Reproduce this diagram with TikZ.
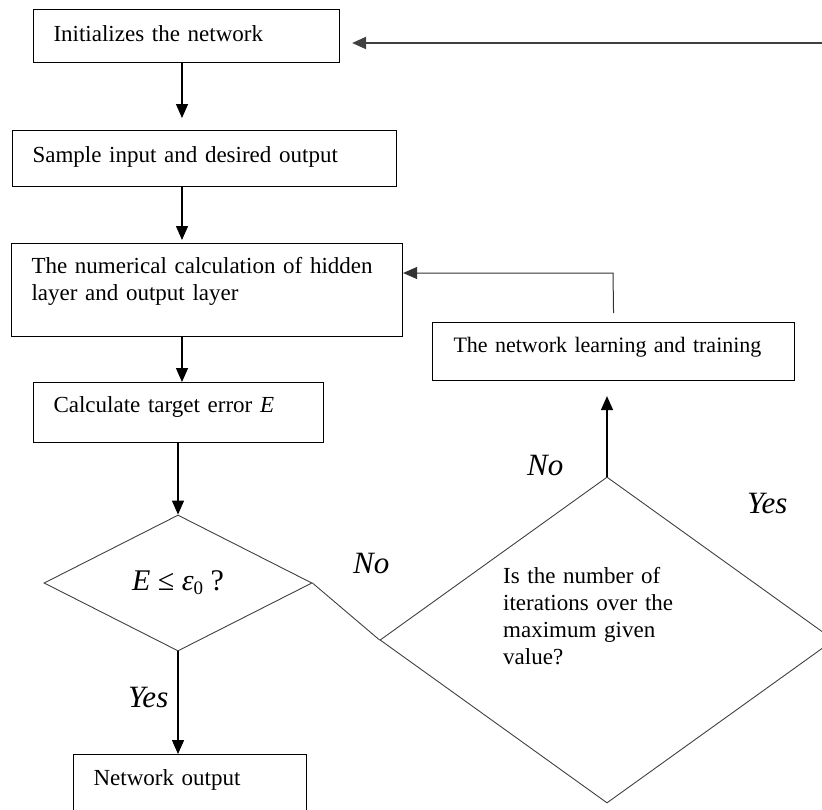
\documentclass[tikz,border=0pt]{standalone}
\usepackage{fontspec}
\setmainfont{Liberation Serif}
\usetikzlibrary{arrows.meta,positioning,shapes.geometric}

\begin{document}
\begin{tikzpicture}[x=1pt, y=-1pt, >={Triangle[length=14pt,width=12pt]},
  every node/.style={font=\fontsize{23}{27}\selectfont},
  stage/.style={draw, line width=1.1pt, anchor=north west, inner xsep=20pt, inner ysep=0pt, align=left},
  test/.style={diamond, draw=black!75, line width=0.9pt, inner sep=0pt},
  verdict/.style={font=\fontsize{31}{31}\selectfont\itshape, inner sep=0pt},
  flow/.style={->, line width=1.4pt}]
\useasboundingbox (0,0) rectangle (822,809);

% main column
\node[stage, text width=266pt, text height=32pt, text depth=21pt] (init) at (33,9) {Initializes the network};
\node[stage, text width=344pt, text height=32pt, text depth=24pt] (sample) at (12,130) {Sample input and desired output};
\node[stage, text width=351pt, text height=30pt, text depth=63pt] (calc) at (11,243) {The numerical calculation of hidden\\ layer and output layer};
\node[stage, text width=250pt, text height=30pt, text depth=30pt] (error) at (33,382) {Calculate target error \textit{E}};
\node[test, minimum width=268pt, minimum height=136pt, font=\fontsize{30}{30}\selectfont] (q1) at (178,583) {\textit{E} ≤ \textit{ε}\raisebox{-4pt}{\fontsize{19}{19}\selectfont 0} ?};
\node[stage, text width=193pt, text height=31pt, text depth=50pt] (out) at (73,754) {Network output};

% right branch
\node[stage, inner xsep=21pt, text width=320pt, text height=30pt, text depth=28pt, font=\fontsize{22}{27}\selectfont] (learn) at (432,322) {\mbox{The network learning and training}};
\node[test, minimum width=454pt, minimum height=326pt] (q2) at (607,640) {};
\node[anchor=base west, inner sep=0pt, text width=180pt, align=left] (q2txt) at (503,583) {Is the number of\\ iterations over the\\ maximum given\\ value?};

\node[verdict, anchor=base west] (no1) at (353,573) {No};
\node[verdict, anchor=base west] (no2) at (527,475) {No};
\node[verdict, anchor=base west] (yes2) at (747,513) {Yes};

\coordinate (col) at (182,0);
\coordinate (topin) at (830,43);
\coordinate (back) at (613,273);

\draw[flow, line width=2pt, draw=black!75, shorten >=12pt] (topin) -- (topin -| init.east);
\draw[flow, shorten >=12pt] (init.south -| col) -- (sample.north -| col);
\draw[flow, shorten >=3pt] (sample.south -| col) -- (calc.north -| col);
\draw[flow] (calc.south -| col) -- (error.north -| col);
\draw[flow] (q1.north |- error.south) -- (q1.north);
\draw[flow] (q1.south) -- node[verdict, left=9pt, pos=0.45] (yes1) {Yes} (q1.south |- out.north);
\draw[black!75, line width=0.9pt] (q1.east) -- (q2.west);
\draw[flow, shorten >=15pt] (q2.north) -- (q2.north |- learn.south);
\draw[flow, line width=1pt, draw=black!80] ([yshift=9pt]learn.north) -- (back) -- (back -| calc.east);
\end{tikzpicture}
\end{document}
